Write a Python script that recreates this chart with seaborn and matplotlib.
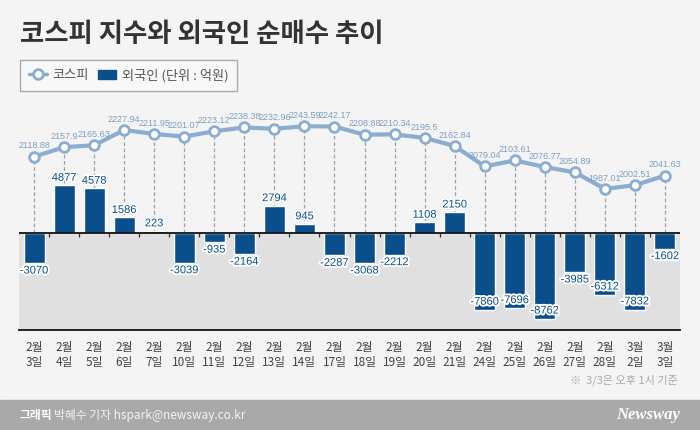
import numpy as np
import pandas as pd
import seaborn as sns
import matplotlib.pyplot as plt
import matplotlib.patheffects as pe
from matplotlib.lines import Line2D
from matplotlib.patches import Patch, Rectangle

# data
dates = ['2월\n3일', '2월\n4일', '2월\n5일', '2월\n6일', '2월\n7일', '2월\n10일', '2월\n11일',
         '2월\n12일', '2월\n13일', '2월\n14일', '2월\n17일', '2월\n18일', '2월\n19일', '2월\n20일',
         '2월\n21일', '2월\n24일', '2월\n25일', '2월\n26일', '2월\n27일', '2월\n28일', '3월\n2일', '3월\n3일']
kospi = [2118.88, 2157.9, 2165.63, 2227.94, 2211.95, 2201.07, 2223.12, 2238.38, 2232.96, 2243.59,
         2242.17, 2208.88, 2210.34, 2195.5, 2162.84, 2079.04, 2103.61, 2076.77, 2054.89, 1987.01,
         2002.51, 2041.63]
foreign = [-3070, 4877, 4578, 1586, 223, -3039, -935, -2164, 2794, 945, -2287, -3068, -2212, 1108,
           2150, -7860, -7696, -8762, -3985, -6312, -7832, -1602]
kospi_labels = ['2118.88', '2157.9', '2165.63', '2227.94', '2211.95', '2201.07', '2223.12', '2238.38',
                '2232.96', '2243.59', '2242.17', '2208.88', '2210.34', '2195.5', '2162.84', '2079.04',
                '2103.61', '2076.77', '2054.89', '1987.01', '2002.51', '2041.63']

df = pd.DataFrame({'pos': np.arange(len(dates)), 'date': dates, 'kospi': kospi, 'foreign': foreign})

BG = '#f4f4f4'
BAR = '#0a4f8c'
LINE = '#8badd0'
LINE_TXT = '#7c9fc4'
NUM_FONT = ['Liberation Sans', 'DejaVu Sans']

sns.set_style('white')
plt.rcParams['font.family'] = ['Noto Sans CJK KR', 'DejaVu Sans']

fig = plt.figure(figsize=(7, 4.3), dpi=100, facecolor=BG)
ax = fig.add_axes([19 / 700, 100 / 430, 661 / 700, 235 / 430])
ax.set_facecolor(BG)

bar_lo, bar_hi = -9900, 14080
ln_lo, ln_hi = 1410.1, 2371.2
ax.set_ylim(bar_lo, bar_hi)
ax.set_xlim(-0.5, len(dates) - 0.5)

# gray area below zero
ax.axhspan(bar_lo, 0, color='#e0e0e0', zorder=0, lw=0)

def to_bar(v):
    return bar_lo + (v - ln_lo) / (ln_hi - ln_lo) * (bar_hi - bar_lo)

ax.vlines(df['pos'], 0, [to_bar(v) for v in kospi], colors='#a0a0a0', linestyles=(0, (3, 2)),
          lw=0.9, zorder=1)

sns.barplot(data=df, x='pos', y='foreign', color=BAR, width=0.7, saturation=1, ax=ax,
            order=list(df['pos']), native_scale=True, zorder=2)
ax.set_xlim(-0.5, len(dates) - 0.5)

ax.axhline(0, color='#111111', lw=1.3, zorder=3)
bounds = np.arange(len(dates) - 1) + 0.5
ax.vlines(bounds, -420, 0, colors='#333333', lw=0.9, zorder=3)

for x, v in zip(df['pos'], foreign):
    if v >= 0:
        ax.text(x, v + 250, f'{v}', ha='center', va='bottom', fontsize=8, color=BAR,
                family=NUM_FONT, zorder=4,
                path_effects=[pe.withStroke(linewidth=2, foreground='white')])
    elif v < -6000:
        ax.text(x, v + 850, f'{v}', ha='center', va='center', fontsize=8, color=BAR,
                family=NUM_FONT, zorder=4,
                path_effects=[pe.withStroke(linewidth=2.8, foreground='white')])
    else:
        ax.text(x, v - 250, f'{v}', ha='center', va='top', fontsize=8, color=BAR,
                family=NUM_FONT, zorder=4,
                path_effects=[pe.withStroke(linewidth=2.8, foreground='white')])

ax.set_xticks(df['pos'])
ax.set_xticklabels(dates, fontsize=8.5, color='#444444', linespacing=1.15)
ax.set_xticks(bounds, minor=True)
ax.tick_params(axis='x', which='major', length=0, pad=8)
ax.tick_params(axis='x', which='minor', direction='in', length=4, width=0.9, color='#333333')
ax.set_yticks([])
ax.set_xlabel('')
ax.set_ylabel('')
for s in ['top', 'left', 'right']:
    ax.spines[s].set_visible(False)
ax.spines['bottom'].set_color('#111111')
ax.spines['bottom'].set_linewidth(1.3)

ax2 = ax.twinx()
ax2.set_ylim(ln_lo, ln_hi)
sns.lineplot(data=df, x='pos', y='kospi', color=LINE, lw=3, marker='o', markersize=7,
             markerfacecolor='white', markeredgecolor=LINE, markeredgewidth=2, ax=ax2)
for x, v, t in zip(df['pos'], kospi, kospi_labels):
    ax2.text(x, v + 26, t, ha='center', va='bottom', fontsize=6.5, color=LINE_TXT,
             family=NUM_FONT)
ax2.set_yticks([])
ax2.set_ylabel('')
ax2.set_xlim(-0.5, len(dates) - 0.5)
for s in ax2.spines.values():
    s.set_visible(False)

# title and legend
fig.text(20 / 700, 1 - 35 / 430, '코스피 지수와 외국인 순매수 추이', fontsize=19, fontweight='heavy',
         color='#333333', va='center', ha='left')
handles = [Line2D([0], [0], color=LINE, lw=2.5, marker='o', markersize=7, markerfacecolor='white',
                  markeredgecolor=LINE, markeredgewidth=2),
           Patch(facecolor=BAR, edgecolor=BAR)]
leg = fig.legend(handles, ['코스피', '외국인 (단위 : 억원)'], loc='upper left',
                 bbox_to_anchor=(20 / 700, 1 - 60 / 430), borderaxespad=0, ncol=2, frameon=True,
                 fancybox=False, fontsize=9.5, labelcolor='#555555', handlelength=1.4,
                 handletextpad=0.4, columnspacing=0.7, borderpad=0.65, edgecolor='#aaaaaa',
                 facecolor='#f8f8f8')
leg.get_frame().set_linewidth(1)
leg.get_frame().set_alpha(1)

fig.text(678 / 700, 1 - 380 / 430, '※  3/3은 오후 1시 기준', fontsize=8, color='#aaaaaa',
         ha='right', va='center')

# footer band
fig.patches.append(Rectangle((0, 0), 1, 30 / 430, transform=fig.transFigure, color='#a9a9a9',
                             zorder=0))
fig.text(20 / 700, 15 / 430, '그래픽', fontsize=8.5, fontweight='bold', color='white', va='center')
fig.text(54 / 700, 15 / 430, '박혜수 기자 hspark@newsway.co.kr', fontsize=8.5, color='#f4f4f4',
         va='center')
fig.text(680 / 700, 15 / 430, 'Newsway', fontsize=12, fontweight='bold', style='italic',
         color='white', ha='right', va='center', family='Liberation Serif')

fig.savefig('out.png', dpi=100, facecolor=BG)
